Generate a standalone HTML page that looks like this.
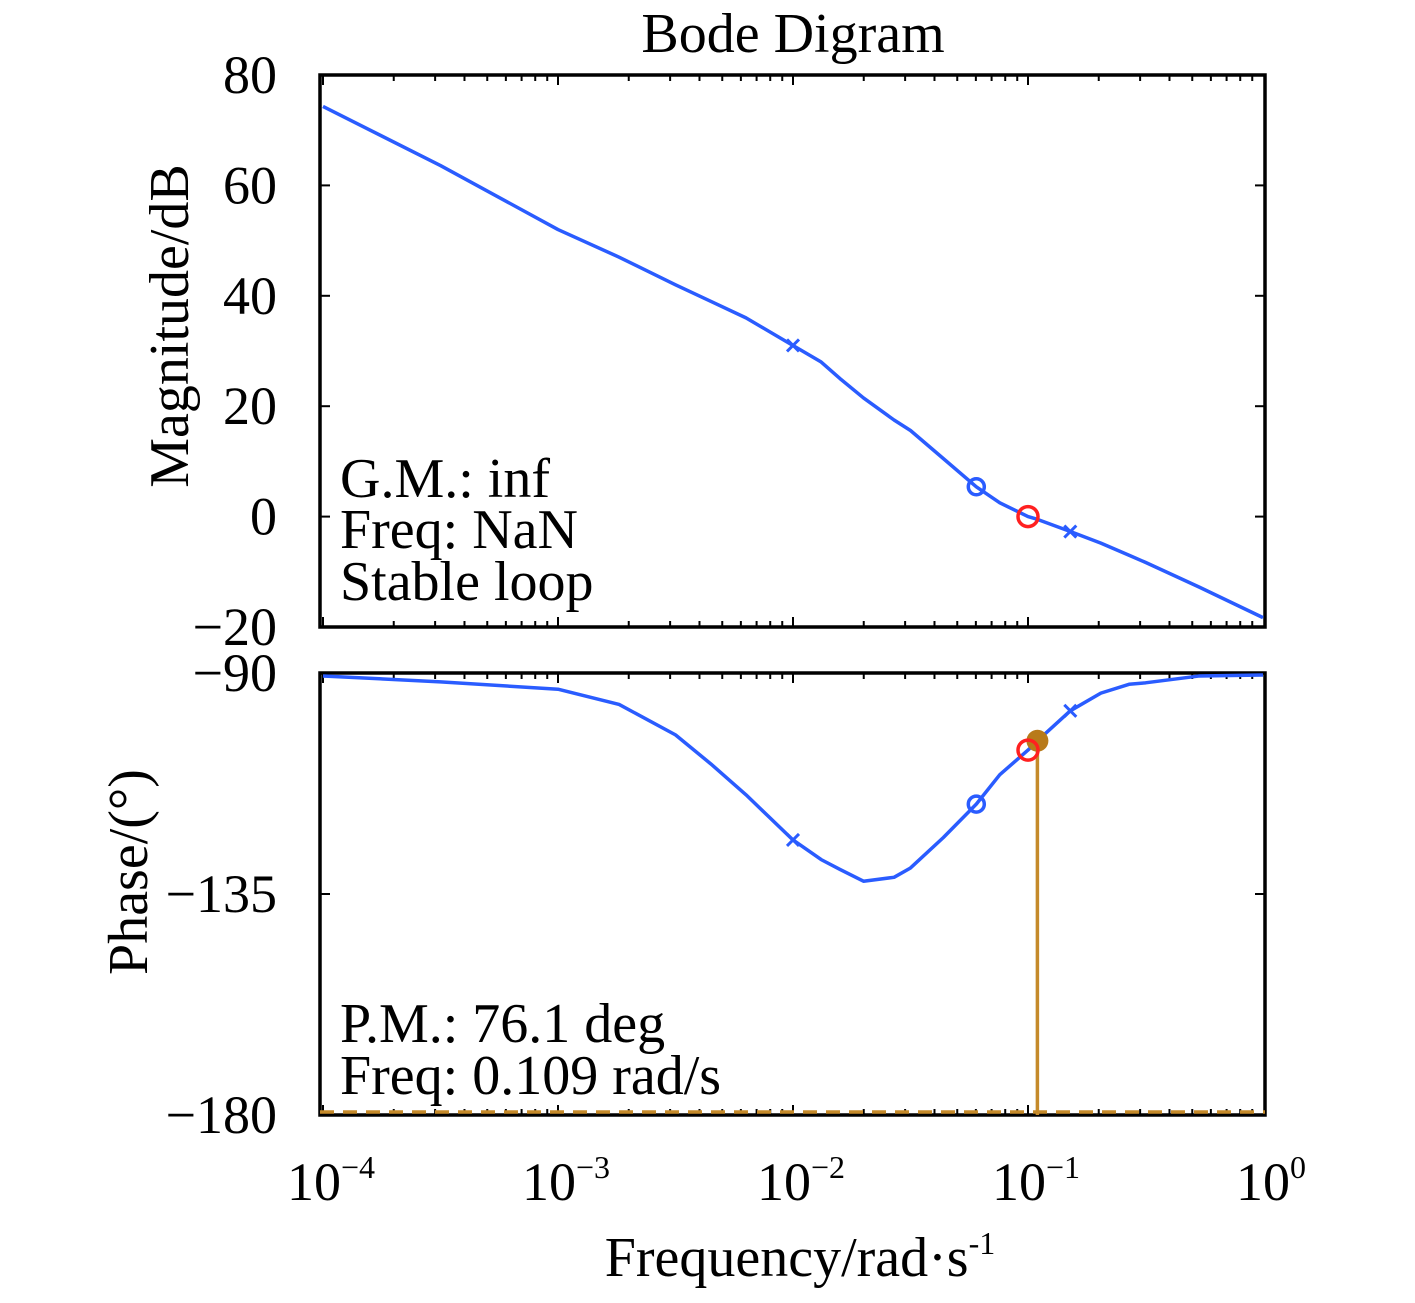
<!DOCTYPE html>
<html><head><meta charset="utf-8"><style>
body{margin:0;background:#fff}
svg text{font-family:"Liberation Serif",serif;fill:#000}
</style></head><body>
<svg id="chart" width="1415" height="1298" viewBox="0 0 1415 1298" xmlns="http://www.w3.org/2000/svg"></svg>
<script>
const logW=[-4,-3.5,-3,-2.74,-2.5,-2.35,-2.2,-2,-1.88,-1.8,-1.7,-1.57,-1.5,-1.36,-1.22,-1.12,-1,-0.96,-0.82,-0.69,-0.57,-0.5,-0.27,0];
const magDB=[74.3,63.6,52,47,42,39,36,31,28,25,21.5,17.5,15.6,10.5,5.4,2.5,0,-0.5,-2.7,-4.8,-7,-8.3,-12.8,-18.3];
const phaseDeg=[-90.6,-91.8,-93.3,-96.4,-102.6,-108.5,-114.8,-124,-128,-130,-132.4,-131.6,-129.7,-123.5,-116.7,-110.7,-105.7,-103.8,-97.7,-94.1,-92.3,-92,-90.6,-90.4];
const magTicks=[80,60,40,20,0,-20];
const phaseTicks=[-90,-135,-180];
const xTicks=[-4,-3,-2,-1,0];
const crossW=[-2,-0.82];
const circleW=-1.22, redW=-1, pmW=-0.96, pmPhase=-103.8;
const ns="http://www.w3.org/2000/svg";
const svg=document.getElementById('chart');
const L=320,R=1265,T1=75,B1=627,T2=673,B2=1115;
const X=lw=>323+235*(lw+4);
const YM=m=>T1+(80-m)*(B1-T1)/100;
const YP=p=>T2+(-90-p)*(B2-T2)/90;
function el(t,a,p){const e=document.createElementNS(ns,t);for(const k in a)e.setAttribute(k,a[k]);(p||svg).appendChild(e);return e;}
function interp(arr,w){for(let i=0;i<logW.length-1;i++){if(w>=logW[i]&&w<=logW[i+1]){const f=(w-logW[i])/(logW[i+1]-logW[i]);return arr[i]+f*(arr[i+1]-arr[i]);}}return arr[arr.length-1];}
function txt(s,x,y,size,anchor,name){const t=el('text',{x:x,y:y,'font-size':size,'text-anchor':anchor||'start'});t.textContent=s;return t;}
[[T1,B1,'magnitude-axes'],[T2,B2,'phase-axes']].forEach(([t,b,n])=>{
 const r=el('rect',{x:L,y:t,width:R-L,height:b-t,fill:'none',stroke:'#000','stroke-width':3.5});
 
 for(let d=-4;d<0;d++)for(let k=1;k<10;k++){const x=X(d+Math.log10(k));const len=k==1?10:6;
  el('line',{x1:x,y1:t,x2:x,y2:t+len,stroke:'#000','stroke-width':2});
  el('line',{x1:x,y1:b,x2:x,y2:b-len,stroke:'#000','stroke-width':2});}
});
magTicks.forEach(v=>{const y=YM(v);el('line',{x1:L,y1:y,x2:L+10,y2:y,stroke:'#000','stroke-width':2});el('line',{x1:R,y1:y,x2:R-10,y2:y,stroke:'#000','stroke-width':2});
 txt(v<0?'\u2212'+(-v):String(v),277,y+18,54,'end','mag-tick-label');});
phaseTicks.forEach(v=>{const y=YP(v);el('line',{x1:L,y1:y,x2:L+10,y2:y,stroke:'#000','stroke-width':2});el('line',{x1:R,y1:y,x2:R-10,y2:y,stroke:'#000','stroke-width':2});
 txt('\u2212'+(-v),277,y+18,54,'end','phase-tick-label');});
xTicks.forEach(v=>{const t=txt('10',X(v)+8,1200,54,'middle','x-tick-label');const s=el('tspan',{dy:-22,'font-size':32});s.textContent=v==0?'0':'\u2212'+(-v);t.appendChild(s);});
function path(arr,Y,name){let d='';logW.forEach((w,i)=>{d+=(i?'L':'M')+X(w)+','+Y(arr[i]);});const p=el('path',{d:d,fill:'none',stroke:'#2a5cff','stroke-width':3.5,'stroke-linejoin':'round'});}
path(magDB,YM,'magnitude-line');path(phaseDeg,YP,'phase-line');
const dl=el('line',{x1:L,y1:B2-3,x2:R,y2:B2-3,stroke:'#c58a2a','stroke-width':3.5,'stroke-dasharray':'14,9'});
const vl=el('line',{x1:X(pmW),y1:YP(pmPhase),x2:X(pmW),y2:B2,stroke:'#c58a2a','stroke-width':3.5});
const pd=el('circle',{cx:X(pmW),cy:YP(pmPhase),r:11,fill:'#b87a1a'});
[[magDB,YM],[phaseDeg,YP]].forEach(([arr,Y])=>{
 crossW.forEach(w=>{const x=X(w),y=Y(interp(arr,w));el('path',{d:`M${x-6},${y-6}L${x+6},${y+6}M${x-6},${y+6}L${x+6},${y-6}`,stroke:'#2a5cff','stroke-width':3});});
 const c=el('circle',{cx:X(circleW),cy:Y(interp(arr,circleW)),r:8,fill:'none',stroke:'#2a5cff','stroke-width':3.5});
 const rc=el('circle',{cx:X(redW),cy:Y(interp(arr,redW)),r:10,fill:'none',stroke:'#ff2020','stroke-width':3.5});
});
txt('Bode Digram',793,52,56,'middle','chart-title');
txt('G.M.: inf',340,497,56,'start','gain-margin-text');
txt('Freq: NaN',340,548,56,'start','gm-freq-text');
txt('Stable loop',340,600,56,'start','stability-text');
txt('P.M.: 76.1 deg',340,1042,56,'start','phase-margin-text');
txt('Freq: 0.109 rad/s',340,1094,56,'start','pm-freq-text');
const yt=txt('Magnitude/dB',0,0,56,'middle','magnitude-axis-title');yt.setAttribute('transform','translate(188,326) rotate(-90)');
const pt=txt('Phase/(\u00B0)',0,0,56,'middle','phase-axis-title');pt.setAttribute('transform','translate(147,872) rotate(-90)');
const xt=txt('Frequency/rad\u00B7s',800,1276,56,'middle','x-axis-title');const sp=el('tspan',{dy:-22,'font-size':32});sp.textContent='-1';xt.appendChild(sp);
</script>
</body></html>
